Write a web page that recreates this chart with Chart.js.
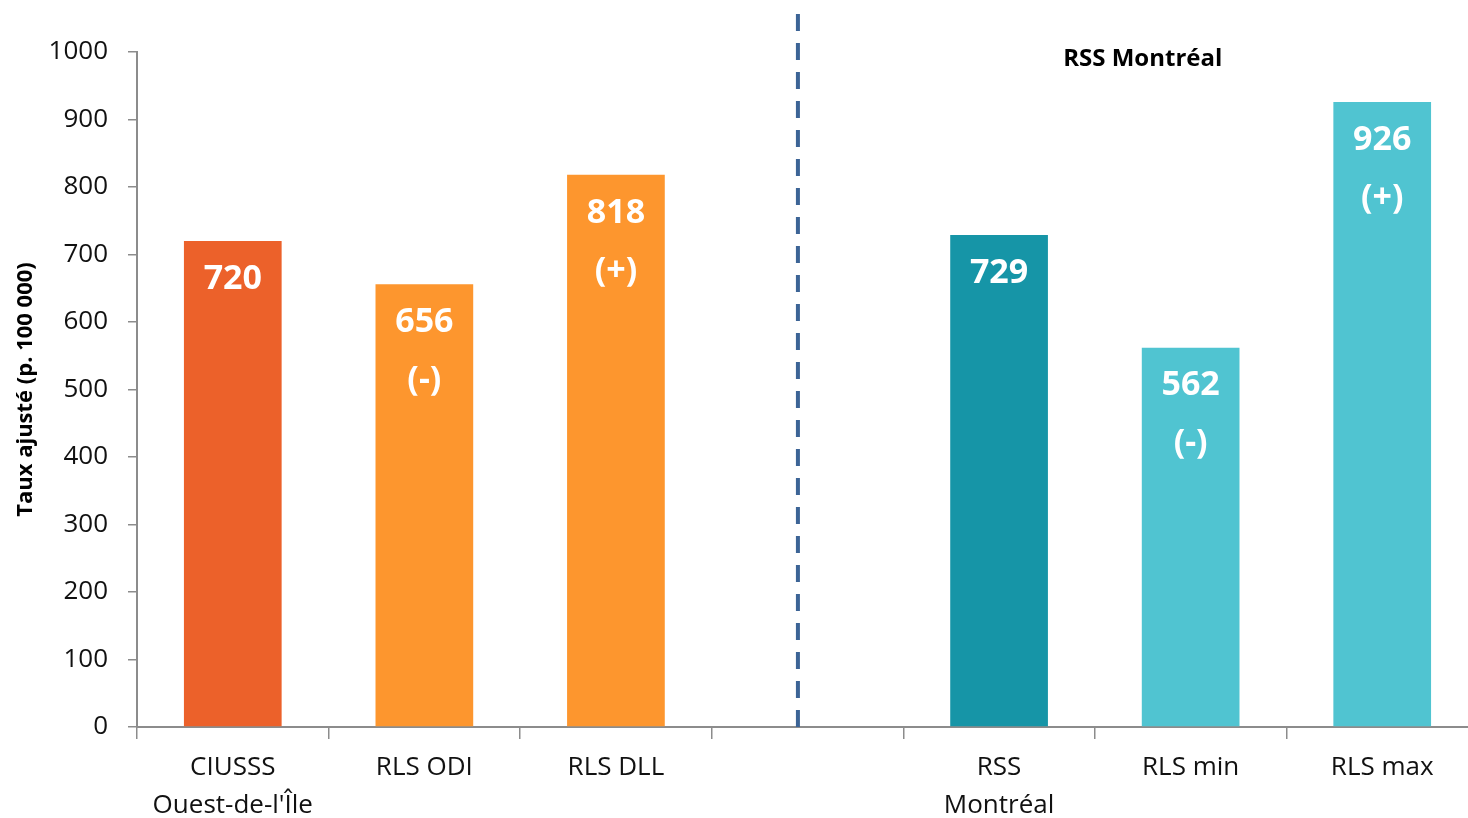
<!DOCTYPE html>
<html lang="fr">
<head>
<meta charset="utf-8">
<title>Taux ajusté (p. 100 000)</title>
<script src="https://cdn.jsdelivr.net/npm/chart.js@4.4.1/dist/chart.umd.min.js"></script>
<style>
  html, body { margin: 0; padding: 0; background: #ffffff; overflow: hidden; }
  #wrap { position: relative; width: 1490px; height: 818px; }
</style>
</head>
<body>
<div id="wrap"><canvas id="chart"></canvas></div>
<script>
// Categories (the empty slot separates the local territory from the Montréal region)
const categories = [["CIUSSS", "Ouest-de-l'Île"], "RLS ODI", "RLS DLL", "", ["RSS", "Montréal"], "RLS min", "RLS max"];
// Adjusted rate per 100 000
const rates = [720, 656, 818, null, 729, 562, 926];
// Significance markers shown under each value
const markers = ["", "(-)", "(+)", "", "", "(-)", "(+)"];
const barColors = ["#EC612A", "#FD962E", "#FD962E", "#FFFFFF", "#1695A7", "#50C4D1", "#50C4D1"];
const yTicks = [0, 100, 200, 300, 400, 500, 600, 700, 800, 900, 1000];
const regionTitle = "RSS Montréal";
const yTitle = "Taux ajusté (p. 100 000)";
// Divider position and region title position, in category units
const dividerAt = 2.95;
const regionTitleAt = 4.75;
const regionTitleValue = 990;

const FONT = "'Open Sans', 'Noto Sans', sans-serif";

const overlayPlugin = {
  id: "overlay",
  afterDatasetsDraw(chart) {
    const ctx = chart.ctx;
    const meta = chart.getDatasetMeta(0);
    const xs = chart.scales.x, ys = chart.scales.y;
    ctx.save();
    ctx.fillStyle = "#FFFFFF";
    ctx.textAlign = "center";
    ctx.textBaseline = "middle";
    ctx.font = "bold 34px " + FONT;
    meta.data.forEach((bar, i) => {
      if (rates[i] == null) return;
      ctx.fillText(String(rates[i]), bar.x, bar.y + 38);
      if (markers[i]) ctx.fillText(markers[i], bar.x, bar.y + 96);
    });
    // dashed divider between the two groups
    const dx = xs.getPixelForValue(dividerAt);
    ctx.strokeStyle = "#3C6496";
    ctx.lineWidth = 4;
    ctx.setLineDash([17, 12]);
    ctx.beginPath();
    ctx.moveTo(dx, 14);
    ctx.lineTo(dx, chart.chartArea.bottom + 6);
    ctx.stroke();
    ctx.setLineDash([]);
    // region title
    ctx.fillStyle = "#000000";
    ctx.font = "bold 24px " + FONT;
    ctx.fillText(regionTitle, xs.getPixelForValue(regionTitleAt), ys.getPixelForValue(regionTitleValue));
    ctx.restore();
  }
};

new Chart(document.getElementById("chart"), {
  type: "bar",
  data: {
    labels: categories,
    datasets: [{
      data: rates,
      backgroundColor: barColors,
      borderWidth: 0,
      barPercentage: 0.51,
      categoryPercentage: 1.0
    }]
  },
  options: {
    responsive: true,
    maintainAspectRatio: false,
    animation: false,
    events: [],
    layout: { padding: { top: 52, left: 0, right: 12, bottom: 0 } },
    plugins: { legend: { display: false }, tooltip: { enabled: false } },
    scales: {
      x: {
        grid: {
          display: true,
          drawOnChartArea: false,
          drawTicks: true,
          tickLength: 12,
          offset: true,
          color: "#8C8C8C",
          lineWidth: 1.5
        },
        border: { display: true, color: "#8C8C8C", width: 2 },
        ticks: {
          color: "#111111",
          font: { family: FONT, size: 26, lineHeight: 1.45 },
          padding: 10,
          maxRotation: 0,
          autoSkip: false
        },
        afterFit(scale) { scale.height = 91; }
      },
      y: {
        min: 0,
        max: 1000,
        afterBuildTicks(scale) { scale.ticks = yTicks.map(v => ({ value: v })); },
        grid: {
          display: true,
          drawOnChartArea: false,
          drawTicks: true,
          tickLength: 9,
          color: "#8C8C8C",
          lineWidth: 1.5
        },
        border: { display: true, color: "#8C8C8C", width: 2 },
        ticks: {
          color: "#111111",
          font: { family: FONT, size: 26 },
          padding: 20,
          callback: (v) => String(v)
        },
        title: {
          display: true,
          text: yTitle,
          color: "#000000",
          font: { family: FONT, size: 22, weight: "bold" },
          padding: { top: 13, bottom: 0 }
        },
        afterFit(scale) { scale.width = 137; }
      }
    }
  },
  plugins: [overlayPlugin]
});
</script>
</body>
</html>
